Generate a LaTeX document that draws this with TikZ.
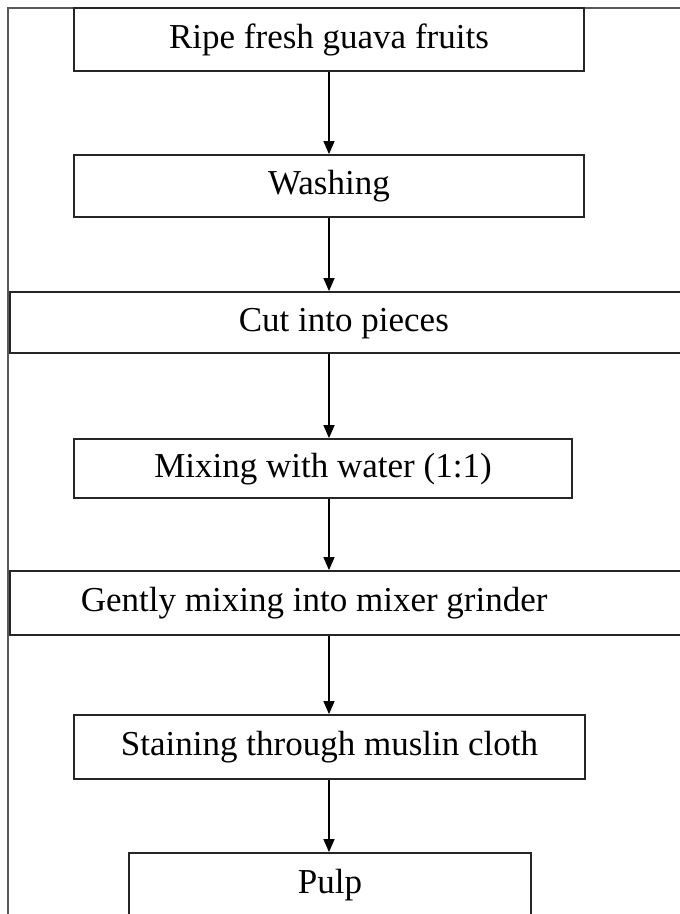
\documentclass[tikz,border=0pt]{standalone}
\usepackage{fontspec}
\setmainfont{Liberation Serif}
\usetikzlibrary{arrows.meta}
\begin{document}
\begin{tikzpicture}[x=1pt,y=-1pt,
  box/.style={draw=black!85, line width=1.8pt, inner ysep=0pt, inner xsep=0pt,
    font=\fontsize{35}{40}\selectfont, text height=24pt, text depth=7pt},
  frameline/.style={draw=black!65, line width=1.4pt},
  flow/.style={draw=black, line width=1.3pt, -{Triangle[length=13pt,width=11pt]}}]
\useasboundingbox (0,0) rectangle (680,914);
\clip (0,0) rectangle (680,914);
\fill[white] (0,0) rectangle (680,914);
\draw[frameline] (690,8) -- (8,8) -- (8,920);
\node[box, minimum width=510pt, minimum height=63pt] (n1) at (329,39.5) {Ripe fresh guava fruits};
\node[box, minimum width=510pt, minimum height=62pt] (n2) at (329,186) {Washing};
\node[box, minimum height=61pt, inner xsep=229pt, anchor=west] (n3) at (9,322.5) {\makebox[250pt][l]{Cut into pieces}};
\node[box, minimum width=498pt, minimum height=59pt] (n4) at (323,468.5) {Mixing with water (1:1)};
\node[box, minimum height=64pt, inner xsep=71pt, anchor=west] (n5) at (9,603) {\makebox[560pt][l]{Gently mixing into mixer grinder}};
\node[box, minimum width=511pt, minimum height=64pt] (n6) at (329.5,747) {Staining through muslin cloth};
\node[box, minimum width=402pt, minimum height=63pt] (n7) at (330,884.5) {Pulp};
\coordinate (ax) at (n2.south);
\draw[flow] (n1.south -| ax) -- (n2.north -| ax);
\draw[flow] (ax) -- (ax |- n3.north);
\draw[flow] (ax |- n3.south) -- (ax |- n4.north);
\draw[flow] (ax |- n4.south) -- (ax |- n5.north);
\draw[flow] (ax |- n5.south) -- (ax |- n6.north);
\draw[flow] (ax |- n6.south) -- (ax |- n7.north);
\end{tikzpicture}
\end{document}
